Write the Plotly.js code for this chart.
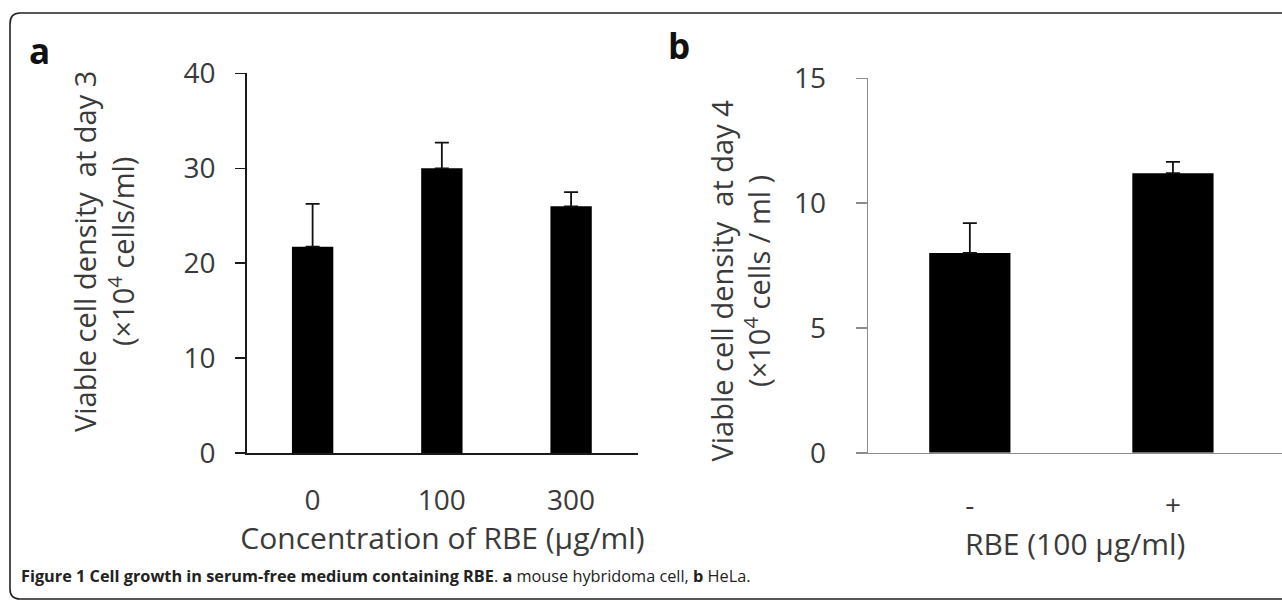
<!DOCTYPE html>
<html>
<head>
<meta charset="utf-8">
<script src="https://cdn.plot.ly/plotly-3.0.1.min.js"></script>
<style>html,body{margin:0;padding:0;background:#fff;}#chart{width:1282px;height:603px;}</style>
</head>
<body>
<div id="chart"></div>
<script>
// Panel a: mouse hybridoma cell, day 3
const catsA = ['0', '100', '300'];
const valsA = [21.75, 30.0, 26.0];
const errA = [4.5, 2.7, 1.5];
// Panel b: HeLa, day 4
const catsB = ['-', '+'];
const valsB = [8.0, 11.2];
const errB = [1.2, 0.45];

const titleA_y = 'Viable cell density  at day 3<br>(×10<sup>4</sup> cells/ml)';
const titleB_y = 'Viable cell density  at day 4<br>(×10<sup>4</sup> cells / ml )';
const titleA_x = 'Concentration of RBE (µg/ml)';
const titleB_x = 'RBE (100 µg/ml)';
const caption = '<b>Figure 1 Cell growth in serum-free medium containing RBE</b>. <b>a</b> mouse hybridoma cell, <b>b</b> HeLa.';

const FONT = '"Open Sans", "Noto Sans", sans-serif';
const TXT = '#3a3a3a';

const traceA = {
  type: 'bar', x: catsA, y: valsA, xaxis: 'x', yaxis: 'y', width: 0.32,
  marker: {color: '#000', line: {width: 0}},
  error_y: {type: 'data', array: errA, arrayminus: catsA.map(() => 0), symmetric: false,
            color: '#111', thickness: 1.8, width: 7},
  hoverinfo: 'x+y', showlegend: false
};
const traceB = {
  type: 'bar', x: catsB, y: valsB, xaxis: 'x2', yaxis: 'y2', width: 0.4,
  marker: {color: '#000', line: {width: 0}},
  error_y: {type: 'data', array: errB, arrayminus: catsB.map(() => 0), symmetric: false,
            color: '#111', thickness: 1.8, width: 7},
  hoverinfo: 'x+y', showlegend: false
};

const W = 1282, H = 603;
const layout = {
  width: W, height: H,
  margin: {l: 0, r: 0, t: 0, b: 0},
  paper_bgcolor: '#fff', plot_bgcolor: 'rgba(0,0,0,0)',
  font: {family: FONT, color: TXT},
  showlegend: false,
  xaxis: {
    domain: [246.7 / W, 638.3 / W], anchor: 'y', type: 'category',
    range: [-0.51, 2.52], showline: true, linecolor: '#1a1a1a', linewidth: 1.6,
    ticks: '', showgrid: false, zeroline: false, fixedrange: true,
    tickfont: {size: 28, color: TXT}, ticklabelstandoff: 21,
    title: {text: titleA_x, font: {size: 30, color: TXT}, standoff: 10}
  },
  yaxis: {
    domain: [1 - 453.3 / H, 1 - 73.3 / H], anchor: 'x',
    range: [0, 40], dtick: 10, tick0: 0, showline: true, linecolor: '#1a1a1a', linewidth: 1.6,
    ticks: 'outside', ticklen: 10, tickwidth: 1.6, tickcolor: '#1a1a1a',
    showgrid: false, zeroline: false, fixedrange: true,
    tickfont: {size: 28, color: TXT}, ticklabelstandoff: 14
  },
  xaxis2: {
    domain: [868.3 / W, 1], anchor: 'y2', type: 'category',
    range: [-0.5, 1.537], showline: true, linecolor: '#8c8c8c', linewidth: 1.6,
    ticks: '', showgrid: false, zeroline: false, fixedrange: true,
    tickfont: {size: 28, color: TXT}, ticklabelstandoff: 27,
    title: {text: titleB_x, font: {size: 30, color: TXT}, standoff: 10}
  },
  yaxis2: {
    domain: [1 - 452.7 / H, 1 - 78.3 / H], anchor: 'x2',
    range: [0, 15], dtick: 5, tick0: 0, showline: true, linecolor: '#8c8c8c', linewidth: 1.6,
    ticks: 'outside', ticklen: 11, tickwidth: 1.6, tickcolor: '#8c8c8c',
    showgrid: false, zeroline: false, fixedrange: true,
    tickfont: {size: 28, color: TXT}, ticklabelstandoff: 24
  },
  shapes: [{
    type: 'path', xref: 'paper', yref: 'paper', layer: 'below',
    path: 'M 1.01,' + (1 - 13 / H) + ' L ' + (20 / W) + ',' + (1 - 13 / H) +
          ' Q ' + (10 / W) + ',' + (1 - 13 / H) + ' ' + (10 / W) + ',' + (1 - 24 / H) +
          ' L ' + (10 / W) + ',' + (1 - 589 / H) +
          ' Q ' + (10 / W) + ',' + (1 - 599 / H) + ' ' + (20 / W) + ',' + (1 - 599 / H) +
          ' L 1.01,' + (1 - 599 / H),
    line: {color: '#222', width: 1.6}
  }],
  annotations: [
    {xref: 'paper', yref: 'paper', x: 103 / W, y: 1 - 252 / H, xanchor: 'center', yanchor: 'middle',
     textangle: -90, text: titleA_y, showarrow: false, font: {size: 29, color: TXT}},
    {xref: 'paper', yref: 'paper', x: 739.5 / W, y: 1 - 281 / H, xanchor: 'center', yanchor: 'middle',
     textangle: -90, text: titleB_y, showarrow: false, font: {size: 29, color: TXT}},
    {xref: 'paper', yref: 'paper', x: 27 / W, y: 1 - 25 / H, xanchor: 'left', yanchor: 'top',
     text: '<b>a</b>', showarrow: false, font: {size: 35, color: '#111'}},
    {xref: 'paper', yref: 'paper', x: 666 / W, y: 1 - 20 / H, xanchor: 'left', yanchor: 'top',
     text: '<b>b</b>', showarrow: false, font: {size: 35, color: '#111'}},
    {xref: 'paper', yref: 'paper', x: 19 / W, y: 1 - 576 / H, xanchor: 'left', yanchor: 'middle',
     text: caption, showarrow: false, font: {size: 16.3, color: '#222'}}
  ]
};

Plotly.newPlot('chart', [traceA, traceB], layout, {displayModeBar: false, staticPlot: true});
</script>
</body>
</html>
